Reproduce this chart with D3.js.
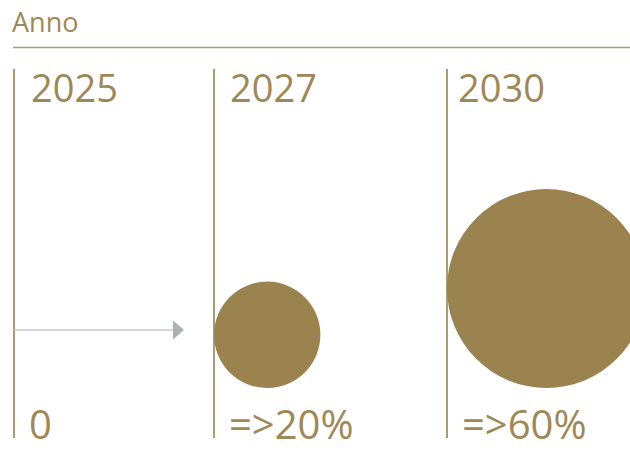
<!DOCTYPE html>
<html>
<head>
<meta charset="utf-8">
<script src="https://cdn.jsdelivr.net/npm/d3@7"></script>
<style>
  html, body { margin: 0; padding: 0; background: #ffffff; }
  svg { display: block; font-family: "Open Sans", "Noto Sans", sans-serif; }
</style>
</head>
<body>
<svg id="chart" width="630" height="459"></svg>
<script>
// Data
const title = "Anno";
const years = [2025, 2027, 2030];
const shares = [0, 20, 60];
const shareLabels = ["0", "=>20%", "=>60%"];

// Styling
const gold = "#9b8350";
const textGold = "#9f8857";
const lineGold = "#ae9a6e";
const arrowGray = "#c6caca";
const arrowHead = "#a9b1b1";

const W = 630, H = 459;
const svg = d3.select("#chart");

// Year positions along the timeline
const x = d3.scaleLinear().domain([2025, 2027, 2030]).range([14, 214, 447]);
// Circle radius from share value
const r = d3.scalePow().exponent(0.57).domain([0, 60]).range([0, 99.5]);

const lineTop = 69, lineBottom = 438;
const circleBase = 388;
const yearOffsets = [17, 16, 11];

// Header
svg.append("text")
  .attr("x", 12).attr("y", 32)
  .attr("fill", textGold)
  .attr("font-size", 27)
  .text(title);

svg.append("line")
  .attr("x1", 13).attr("x2", W)
  .attr("y1", 47.5).attr("y2", 47.5)
  .attr("stroke", lineGold).attr("stroke-width", 1.5);

// Vertical year markers
svg.selectAll("line.year")
  .data(years)
  .join("line")
  .attr("class", "year")
  .attr("x1", d => x(d)).attr("x2", d => x(d))
  .attr("y1", lineTop).attr("y2", lineBottom)
  .attr("stroke", lineGold).attr("stroke-width", 2);

// Arrow from the start year
const arrowY = 330;
const arrowEnd = 184;
svg.append("line")
  .attr("x1", x(2025)).attr("x2", arrowEnd - 11)
  .attr("y1", arrowY).attr("y2", arrowY)
  .attr("stroke", arrowGray).attr("stroke-width", 1.5);
svg.append("path")
  .attr("d", `M${arrowEnd - 11},${arrowY - 9.5} L${arrowEnd},${arrowY} L${arrowEnd - 11},${arrowY + 9.5} Z`)
  .attr("fill", arrowHead);

// Share circles, resting on a common baseline and touching their marker
svg.selectAll("circle.share")
  .data(years.map((y, i) => ({ year: y, v: shares[i] })).filter(d => d.v > 0))
  .join("circle")
  .attr("class", "share")
  .attr("cx", d => x(d.year) + r(d.v))
  .attr("cy", d => circleBase - r(d.v))
  .attr("r", d => r(d.v))
  .attr("fill", gold);

// Year labels
svg.selectAll("text.yearLabel")
  .data(years)
  .join("text")
  .attr("class", "yearLabel")
  .attr("x", (d, i) => x(d) + yearOffsets[i])
  .attr("y", 102)
  .attr("fill", textGold)
  .attr("font-size", 38)
  .text(d => d);

// Share labels
svg.selectAll("text.shareLabel")
  .data(years)
  .join("text")
  .attr("class", "shareLabel")
  .attr("x", d => x(d) + 15)
  .attr("y", 439)
  .attr("fill", textGold)
  .attr("font-size", 40)
  .text((d, i) => shareLabels[i]);
</script>
</body>
</html>
